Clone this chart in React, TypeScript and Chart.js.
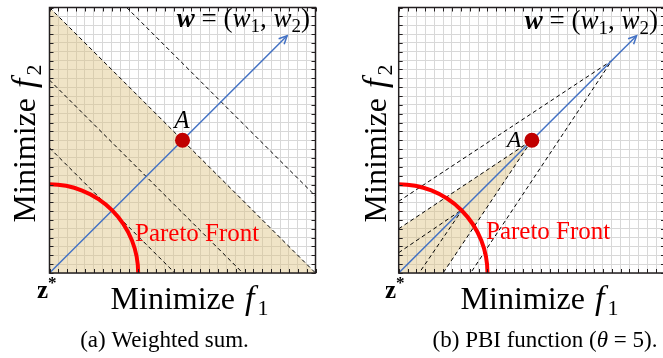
import React, { useEffect, useRef } from "react";
import { Chart, registerables } from "chart.js";
Chart.register(...registerables);

// ---------- data ----------
const AXIS_MIN = 0;
const AXIS_MAX = 30;
const TICK_STEP = 1;
const POINT_A = { x: 15, y: 15 };
const W_ARROW_END = { x: 26.8, y: 26.8 };
const PARETO_RADIUS = 10;
// (a) weighted-sum contours f1 + f2 = c
const WS_LEVELS = [14.14, 21.8, 30, 38.7];
const WS_SHADE_LEVEL = 30;
// (b) PBI contours: vertex on the w line at (t, t), arms hit the axes at b
const PBI_VERTICES = [7.2, 15, 24];
const PBI_INTERCEPTS = [2.3, 5, 8.1];
const PBI_SHADE_VERTEX = 15;
const PBI_SHADE_INTERCEPT = 5;

// ---------- style ----------
const SERIF = '"Liberation Serif", "Times New Roman", serif';
const SHADE = "rgba(222,196,130,0.45)";
const BLUE = "#4472c4";
const RED = "#ff0000";
const DOT = "#c00000";
const FRAME = "#231f20";

type Pt = { x: number; y: number };
type Run = { t: string; font: string; dy?: number; dx?: number; color?: string };

function drawRuns(ctx: CanvasRenderingContext2D, runs: Run[], x: number, y: number, align: string) {
  ctx.save();
  ctx.textAlign = "left";
  ctx.textBaseline = "alphabetic";
  let total = 0;
  for (const r of runs) {
    ctx.font = r.font;
    total += ctx.measureText(r.t).width + (r.dx || 0);
  }
  let cx = align === "left" ? x : align === "center" ? x - total / 2 : x - total;
  for (const r of runs) {
    ctx.font = r.font;
    cx += r.dx || 0;
    ctx.fillStyle = r.color || "#000";
    ctx.fillText(r.t, cx, y + (r.dy || 0));
    cx += ctx.measureText(r.t).width;
  }
  ctx.restore();
}

function wsSegment(c: number): Pt[] {
  if (c <= AXIS_MAX) return [{ x: 0, y: c }, { x: c, y: 0 }];
  return [{ x: c - AXIS_MAX, y: AXIS_MAX }, { x: AXIS_MAX, y: c - AXIS_MAX }];
}
function pbiV(t: number, b: number): Pt[] {
  return [{ x: 0, y: b }, { x: t, y: t }, { x: b, y: 0 }];
}

function makeDecor(panel: "a" | "b", offX: number) {
  const shadePoly: Pt[] =
    panel === "a"
      ? [{ x: 0, y: 0 }, { x: 0, y: WS_SHADE_LEVEL }, { x: WS_SHADE_LEVEL, y: 0 }]
      : [{ x: 0, y: 0 }, ...pbiV(PBI_SHADE_VERTEX, PBI_SHADE_INTERCEPT)];
  return {
    id: "decor" + panel,
    beforeDatasetsDraw(chart: any) {
      const { ctx, chartArea: a } = chart;
      const xs = chart.scales.x, ys = chart.scales.y;
      ctx.save();
      ctx.beginPath();
      ctx.rect(a.left, a.top, a.right - a.left, a.bottom - a.top);
      ctx.clip();
      ctx.beginPath();
      shadePoly.forEach((p, i) => {
        const px = xs.getPixelForValue(p.x), py = ys.getPixelForValue(p.y);
        if (i === 0) ctx.moveTo(px, py); else ctx.lineTo(px, py);
      });
      ctx.closePath();
      ctx.fillStyle = SHADE;
      ctx.fill();
      ctx.restore();
    },
    afterDatasetsDraw(chart: any) {
      const { ctx, chartArea: a } = chart;
      const xs = chart.scales.x, ys = chart.scales.y;
      // Pareto front arc
      ctx.save();
      ctx.beginPath();
      ctx.rect(a.left, a.top, a.right - a.left, a.bottom - a.top);
      ctx.clip();
      const cx = xs.getPixelForValue(0), cy = ys.getPixelForValue(0);
      const r = xs.getPixelForValue(PARETO_RADIUS) - cx;
      ctx.beginPath();
      ctx.arc(cx, cy, r, -Math.PI / 2, 0);
      ctx.strokeStyle = RED;
      ctx.lineWidth = 4;
      ctx.stroke();
      ctx.restore();
      // arrow head
      const ex = xs.getPixelForValue(W_ARROW_END.x), ey = ys.getPixelForValue(W_ARROW_END.y);
      const ang = Math.atan2(ey - cy, ex - cx);
      ctx.save();
      ctx.strokeStyle = BLUE;
      ctx.lineWidth = 1.5;
      ctx.beginPath();
      ctx.moveTo(ex - 9 * Math.cos(ang - 0.45), ey - 9 * Math.sin(ang - 0.45));
      ctx.lineTo(ex, ey);
      ctx.lineTo(ex - 9 * Math.cos(ang + 0.45), ey - 9 * Math.sin(ang + 0.45));
      ctx.stroke();
      ctx.restore();
      // frame + inward ticks
      ctx.save();
      ctx.strokeStyle = FRAME;
      ctx.lineWidth = 1.5;
      ctx.strokeRect(a.left, a.top, a.right - a.left, a.bottom - a.top);
      ctx.lineWidth = 1;
      ctx.beginPath();
      for (let v = AXIS_MIN; v <= AXIS_MAX; v += TICK_STEP) {
        const px = Math.round(xs.getPixelForValue(v)) + 0.5;
        const py = Math.round(ys.getPixelForValue(v)) + 0.5;
        ctx.moveTo(px, a.bottom); ctx.lineTo(px, a.bottom - 4);
        ctx.moveTo(px, a.top); ctx.lineTo(px, a.top + 4);
        ctx.moveTo(a.left, py); ctx.lineTo(a.left + 4, py);
        ctx.moveTo(a.right, py); ctx.lineTo(a.right - 4, py);
      }
      ctx.stroke();
      ctx.restore();
    },
    afterDraw(chart: any) {
      const ctx: CanvasRenderingContext2D = chart.ctx;
      const X = (v: number) => v - offX;
      const isA = panel === "a";
      // A label
      drawRuns(ctx, [{ t: "A", font: `italic ${isA ? 25 : 24}px ${SERIF}` }],
        X(isA ? 182 : 514), isA ? 128 : 147, "center");
      // w = (w1, w2)
      const wf = 27;
      drawRuns(ctx, [
        { t: "w", font: `bold italic ${wf}px ${SERIF}` },
        { t: " = (", font: `${wf}px ${SERIF}` },
        { t: "w", font: `italic ${wf}px ${SERIF}` },
        { t: "1", font: `${wf - 8}px ${SERIF}`, dy: 5 },
        { t: ", ", font: `${wf}px ${SERIF}` },
        { t: "w", font: `italic ${wf}px ${SERIF}` },
        { t: "2", font: `${wf - 8}px ${SERIF}`, dy: 5 },
        { t: ")", font: `${wf}px ${SERIF}` },
      ], X(isA ? 310 : 658), isA ? 27 : 29, "right");
      // Pareto Front
      drawRuns(ctx, [{ t: "Pareto Front", font: `25px ${SERIF}`, color: RED }],
        X(isA ? 135 : 486), isA ? 241 : 239, "left");
      // z*
      drawRuns(ctx, [
        { t: "z", font: `bold 25px ${SERIF}` },
        { t: "*", font: `bold 17px ${SERIF}`, dy: -10 },
      ], X(isA ? 37 : 385), 298, "left");
      // x title
      drawRuns(ctx, [
        { t: "Minimize ", font: `32px ${SERIF}` },
        { t: "f", font: `italic 34px ${SERIF}`, dx: 2 },
        { t: "1", font: `22px ${SERIF}`, dy: 6, dx: 3 },
      ], X(isA ? 189.5 : 539.5), 309, "center");
      // y title
      ctx.save();
      ctx.translate(X(isA ? 35 : 386), 143.5);
      ctx.rotate(-Math.PI / 2);
      drawRuns(ctx, [
        { t: "Minimize ", font: `32px ${SERIF}` },
        { t: "f", font: `italic 34px ${SERIF}`, dx: 2 },
        { t: "2", font: `22px ${SERIF}`, dy: 6, dx: 3 },
      ], 0, 0, "center");
      ctx.restore();
      // caption
      if (isA) {
        drawRuns(ctx, [{ t: "(a) Weighted sum.", font: `23px ${SERIF}` }], X(164.5), 347, "center");
      } else {
        drawRuns(ctx, [
          { t: "(b) PBI function (", font: `23px ${SERIF}` },
          { t: "θ", font: `italic 23px ${SERIF}` },
          { t: " = 5).", font: `23px ${SERIF}` },
        ], X(545), 347, "center");
      }
    },
  };
}

function makeConfig(panel: "a" | "b", offX: number, padding: any) {
  const dashed = (data: Pt[]) => ({
    data,
    showLine: true,
    borderColor: "#000",
    borderWidth: 1,
    borderDash: [4, 3],
    pointRadius: 0,
    fill: false,
    order: 4,
  });
  const contours =
    panel === "a"
      ? WS_LEVELS.map((c) => dashed(wsSegment(c)))
      : PBI_VERTICES.map((t, i) => dashed(pbiV(t, PBI_INTERCEPTS[i])));
  const scale = {
    type: "linear",
    min: AXIS_MIN,
    max: AXIS_MAX,
    ticks: { display: false, stepSize: TICK_STEP },
    grid: { color: "#d8d8d8", lineWidth: 1, drawTicks: false },
    border: { display: false },
  };
  return {
    type: "scatter",
    data: {
      datasets: [
        ...contours,
        {
          data: [{ x: 0, y: 0 }, W_ARROW_END],
          showLine: true,
          borderColor: BLUE,
          borderWidth: 1.5,
          pointRadius: 0,
          fill: false,
          order: 3,
        },
        {
          data: [POINT_A],
          pointRadius: 7.5,
          pointHoverRadius: 7.5,
          backgroundColor: DOT,
          borderWidth: 0,
          order: 1,
        },
      ],
    },
    options: {
      responsive: false,
      maintainAspectRatio: false,
      animation: false,
      events: [],
      layout: { padding },
      plugins: { legend: { display: false }, tooltip: { enabled: false }, title: { display: false } },
      scales: { x: scale, y: scale },
    },
    plugins: [makeDecor(panel, offX)],
  };
}

function Panel({ panel, left, width, padding }: any) {
  const ref = useRef<HTMLCanvasElement>(null);
  useEffect(() => {
    const chart = new Chart(ref.current as any, makeConfig(panel, left, padding) as any);
    return () => chart.destroy();
  }, []);
  return (
    <canvas
      ref={ref}
      width={width}
      height={358}
      style={{ position: "absolute", left, top: 0, width, height: 358 }}
    />
  );
}

export default function App() {
  return (
    <div
      style={{
        position: "fixed",
        left: 0,
        top: 0,
        width: 663,
        height: 358,
        overflow: "hidden",
        background: "#fff",
      }}
    >
      <Panel panel="a" left={0} width={333} padding={{ left: 49.5, top: 7, right: 17.5, bottom: 85 }} />
      <Panel panel="b" left={333} width={340} padding={{ left: 65.7, top: 7, right: 8, bottom: 85 }} />
    </div>
  );
}
